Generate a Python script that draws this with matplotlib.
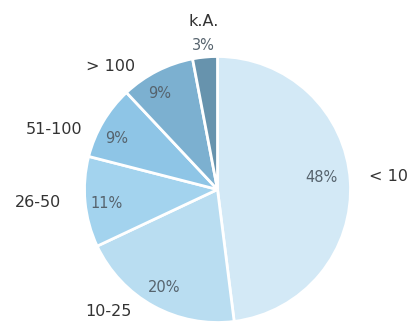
import numpy as np
import matplotlib
matplotlib.use("Agg")
import matplotlib.pyplot as plt

# data
categories = ["< 10", "10-25", "26-50", "51-100", "> 100", "k.A."]
shares = [48, 20, 11, 9, 9, 3]
colors = ["#d3e9f6", "#b9ddf1", "#a3d3ee", "#8ec5e6", "#7cb0d0", "#6793ad"]

# label layout (radius in pie units, angle nudge in degrees)
pct_radius = [0.79, 0.84, 0.84, 0.85, 0.84, 1.09]
pct_nudge = [2.7, 0, 1.6, 3.5, 4, 0]
cat_radius = [1.29, 1.23, 1.35, 1.31, 1.23, 1.27]
cat_nudge = [0.6, -13, -1.4, 10.6, 14, -0.8]

fig = plt.figure(figsize=(4.18, 3.29), dpi=100)
ax = fig.add_axes([0, 0, 1, 1])

wedges, _ = ax.pie(shares, colors=colors, startangle=90, counterclock=False,
                   radius=1.0, wedgeprops=dict(edgecolor="white", linewidth=2))

for w, cat, val, pr, pn, cr, cn in zip(wedges, categories, shares, pct_radius,
                                        pct_nudge, cat_radius, cat_nudge):
    mid = (w.theta1 + w.theta2) / 2
    a = np.deg2rad(mid + pn)
    ax.text(pr * np.cos(a), pr * np.sin(a), f"{val}%", ha="center", va="center",
            fontsize=10.5, color="#56636d", family="DejaVu Sans")
    a = np.deg2rad(mid + cn)
    ax.text(cr * np.cos(a), cr * np.sin(a), cat, ha="center", va="center",
            fontsize=11.5, color="#333333", family="DejaVu Sans")

ax.set_xlim(-217.5 / 133, (418 - 217.5) / 133)
ax.set_ylim(-139.5 / 133, 189.5 / 133)
ax.set_aspect("auto")
ax.axis("off")

fig.savefig("out.png", dpi=100, facecolor="white")
